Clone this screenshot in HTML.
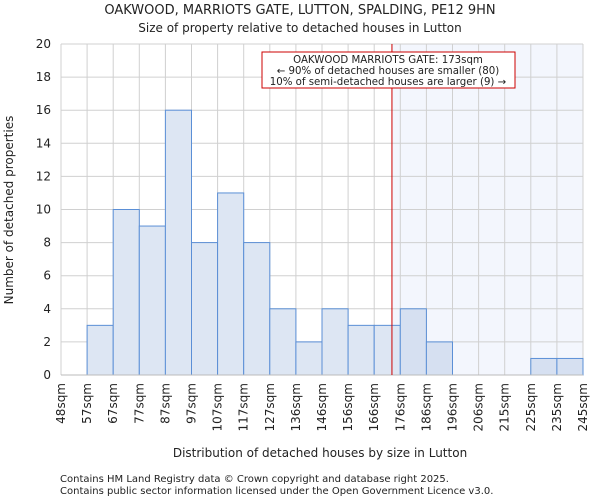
<!DOCTYPE html>
<html><head><meta charset="utf-8"><style>
body{margin:0;background:#fff;font-family:"DejaVu Sans","Liberation Sans",sans-serif;}
svg text{font-family:"DejaVu Sans","Liberation Sans",sans-serif;fill:#222;}
</style></head><body>
<svg id="c" width="600" height="500" xmlns="http://www.w3.org/2000/svg">
<text x="300" y="14" font-size="13" text-anchor="middle">OAKWOOD, MARRIOTS GATE, LUTTON, SPALDING, PE12 9HN</text>
<text x="300" y="32" font-size="12" text-anchor="middle">Size of property relative to detached houses in Lutton</text>
<g id="plot"></g>
<text x="320" y="457" font-size="12" text-anchor="middle">Distribution of detached houses by size in Lutton</text>
<text transform="translate(13,210) rotate(-90)" font-size="12" text-anchor="middle">Number of detached properties</text>
<text x="60" y="482" font-size="10">Contains HM Land Registry data © Crown copyright and database right 2025.</text>
<text x="60" y="494" font-size="10">Contains public sector information licensed under the Open Government Licence v3.0.</text>
</svg>
<script>
const binLabels=["48sqm","57sqm","67sqm","77sqm","87sqm","97sqm","107sqm","117sqm","127sqm","136sqm","146sqm","156sqm","166sqm","176sqm","186sqm","196sqm","206sqm","215sqm","225sqm","235sqm","245sqm"];
const counts=[0,3,10,9,16,8,11,8,4,2,4,3,3,4,2,0,0,0,1,1];
const yTicks=[0,2,4,6,8,10,12,14,16,18,20];
const markerBin=12.68;
const NS="http://www.w3.org/2000/svg";
const g=document.getElementById('plot');
const L=61,R=583,T=44,B=375,yMax=20;
const bw=(R-L)/counts.length;
const xs=i=>L+i*bw;
const ys=v=>B-(v/yMax)*(B-T);
function mk(t,a){const e=document.createElementNS(NS,t);for(const k in a)e.setAttribute(k,a[k]);g.appendChild(e);return e;}
const mx=xs(markerBin);
let e=mk('rect',{x:mx,y:T,width:R-mx,height:B-T,fill:'#f3f6fd'});


yTicks.forEach(v=>{
 let l=mk('line',{x1:L,x2:R,y1:ys(v),y2:ys(v),stroke:'#d0d0d0'});
 
 
 let t=mk('text',{x:L-10,y:ys(v)+4,'font-size':12,'text-anchor':'end'});t.textContent=v;
 
 
});
binLabels.forEach((s,i)=>{
 let l=mk('line',{x1:xs(i),x2:xs(i),y1:T,y2:B,stroke:'#d0d0d0'});
 
 
 let t=mk('text',{transform:`translate(${xs(i)+4},${B+8}) rotate(-90)`,'font-size':12,'text-anchor':'end'});t.textContent=s;
 
 
});
counts.forEach((v,i)=>{
 if(v<=0)return;
 let r=mk('rect',{x:xs(i),y:ys(v),width:bw,height:B-ys(v),fill:(i>=13?'#d6e0f1':'#dde6f3'),stroke:'#5b8fd6','stroke-width':1});
 
 
});
e=mk('line',{x1:L,x2:R,y1:B,y2:B,stroke:'#bbb'});


e=mk('line',{x1:mx,x2:mx,y1:T,y2:B,stroke:'#cc0000','stroke-width':1});


e=mk('rect',{x:262,y:52,width:253,height:36,fill:'#fff',stroke:'#cc0000'});


["OAKWOOD MARRIOTS GATE: 173sqm","← 90% of detached houses are smaller (80)","10% of semi-detached houses are larger (9) →"].forEach((s,i)=>{
 let t=mk('text',{x:388,y:63+i*11,'font-size':10.2,'text-anchor':'middle'});t.textContent=s;
 
 
});
</script>
</body></html>
